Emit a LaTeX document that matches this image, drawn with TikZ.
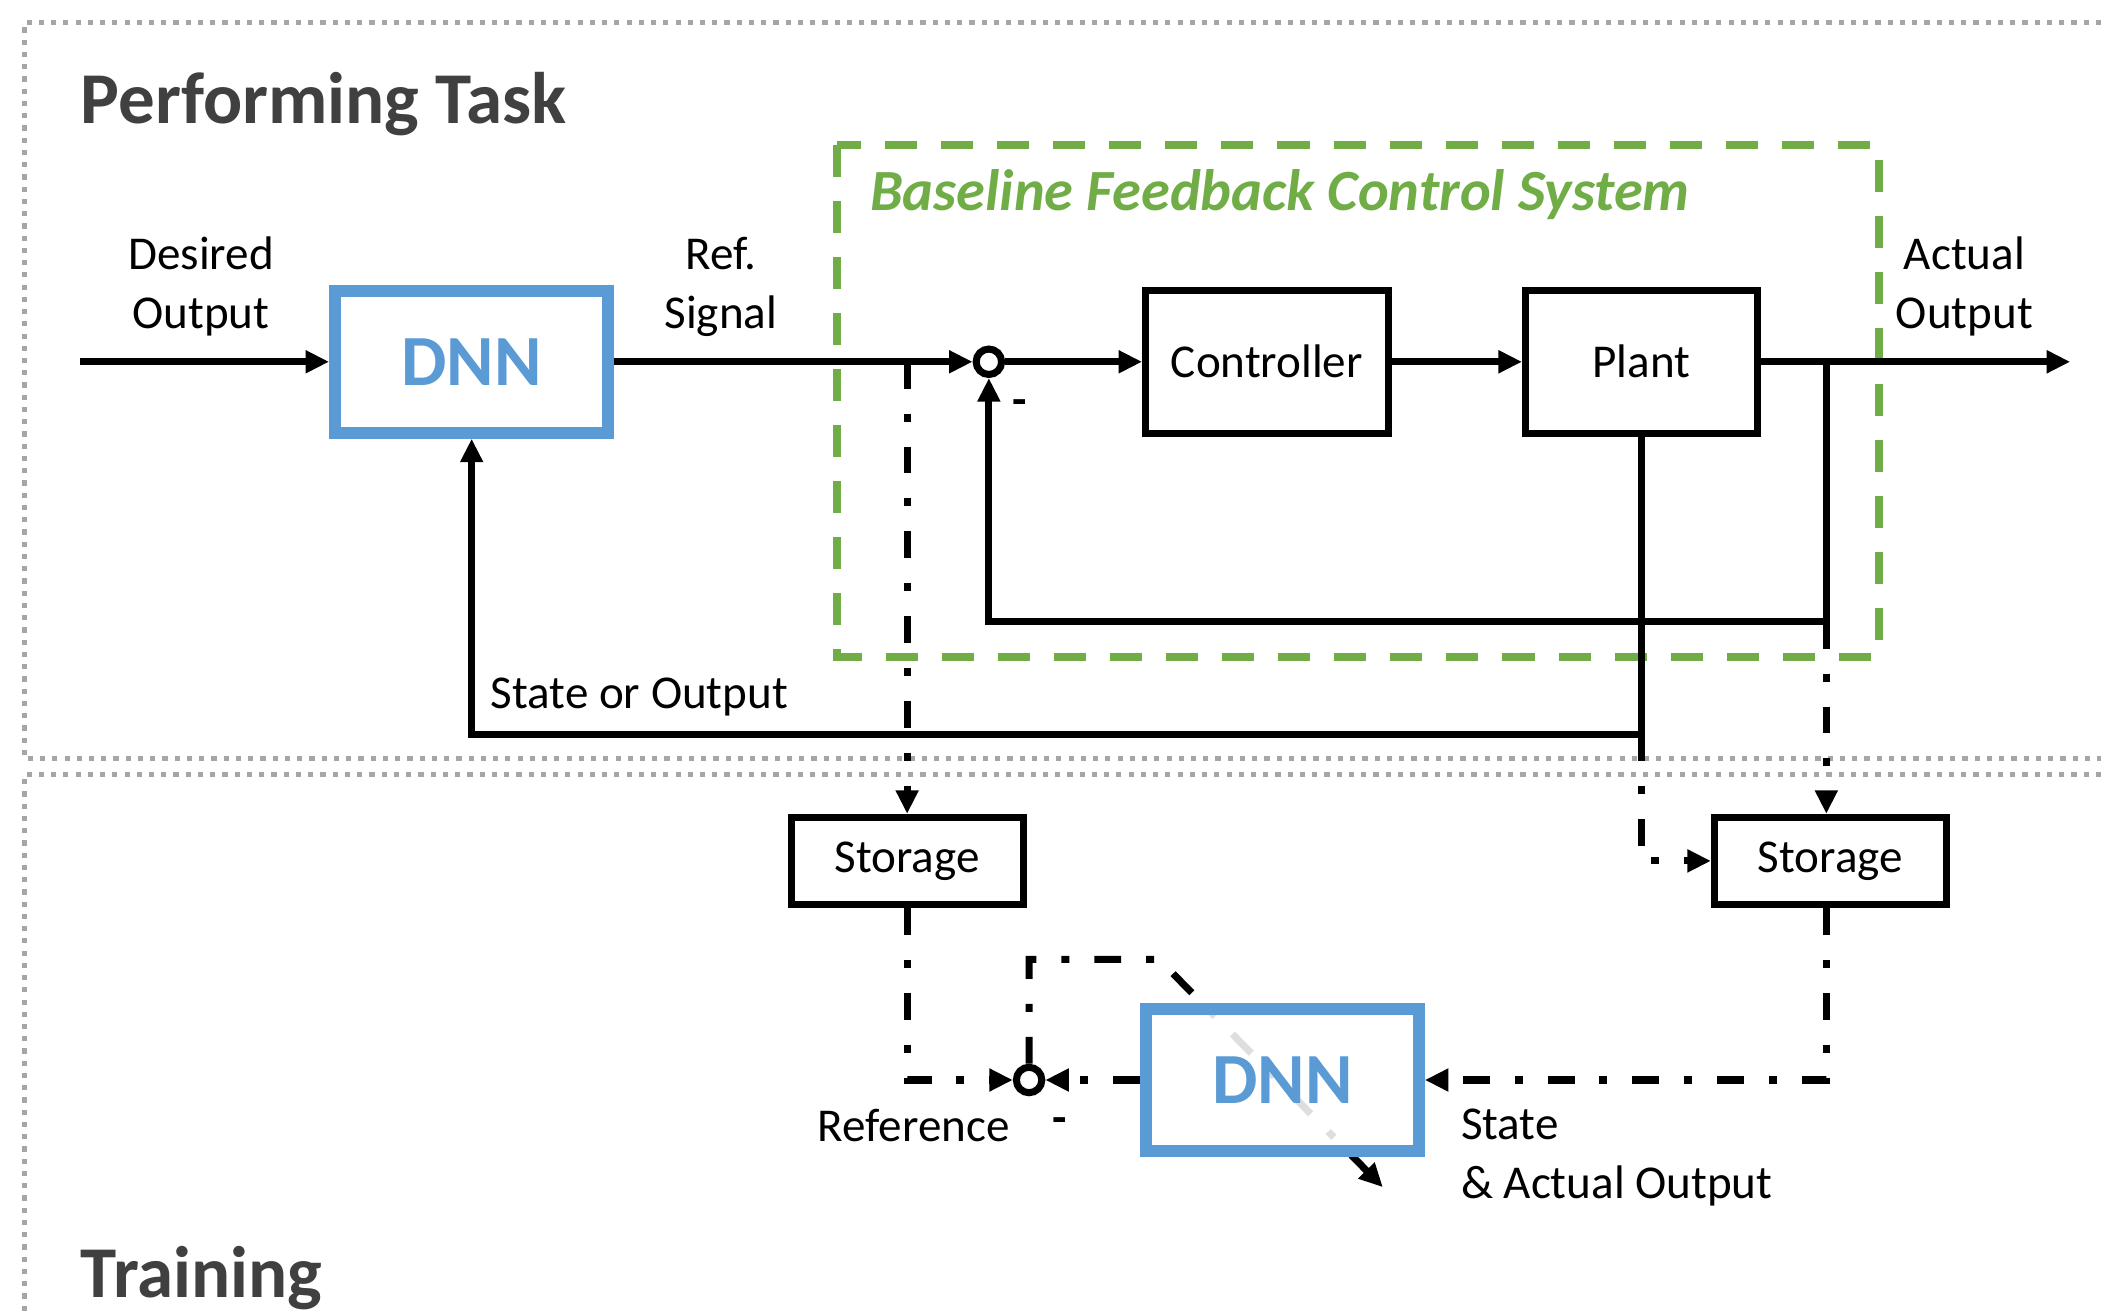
\documentclass[tikz,border=0pt]{standalone}
\usepackage{fontspec}
\setmainfont{Carlito}
\usetikzlibrary{arrows.meta}
\definecolor{dnnblue}{HTML}{5B9BD5}
\definecolor{basegreen}{HTML}{70AD47}
\definecolor{framegray}{HTML}{A6A6A6}
\definecolor{titlegray}{HTML}{404040}

\begin{document}
\begin{tikzpicture}[>={Triangle[length=5pt,width=4.6pt]}, line width=1.5pt,
  every node/.style={font=\fontsize{10}{12.5}\selectfont, align=center},
  block/.style={draw, rectangle, inner sep=0pt, minimum height=1.07cm},
  storebox/.style={draw, rectangle, inner sep=0pt, minimum width=1.73cm, minimum height=0.65cm},
  dnnbox/.style={draw=dnnblue, line width=2.5pt, fill=white, rectangle, inner sep=0pt, minimum width=2.04cm, minimum height=1.06cm, text=dnnblue, font=\fontsize{15.3}{18}\selectfont\bfseries},
  junction/.style={draw, circle, fill=white, minimum size=0.19cm, inner sep=0pt},
  dashdotline/.style={dash pattern=on 5.7pt off 5.3pt on 1.7pt off 5.3pt},
  framedots/.style={draw=framegray, line width=1.1pt, dash pattern=on 1.1pt off 1.5pt},
  minus/.style={label={[anchor=center, xshift=0.23cm, yshift=-0.34cm]center:\textbf{-}}}]
\useasboundingbox (0,0) rectangle (15.68,-9.81);
\draw[framedots] (15.68,-0.17) -- (0.18,-0.17) -- (0.18,-5.66) -- (15.68,-5.66);
\draw[framedots] (15.68,-5.78) -- (0.18,-5.78) -- (0.18,-9.81);
\node[anchor=base west, text=titlegray, font=\fontsize{15.5}{18}\selectfont\bfseries] (PTitle) at (0.46,-0.92) {Performing Task};
\node[anchor=base west, text=titlegray, font=\fontsize{15.5}{18}\selectfont\bfseries] (TTitle) at (0.46,-9.68) {Training};
\draw[draw=basegreen, line width=1.7pt, dash pattern=on 6.8pt off 5.1pt] (6.25,-1.08) rectangle (14.02,-4.90);
\node[anchor=west, text=basegreen, font=\fontsize{12.4}{14}\selectfont\bfseries\itshape] (P1Base) at (6.35,-1.45) {Baseline Feedback Control System};
\coordinate (P1In) at (0.60,-2.70);
\node[dnnbox] (P1Dnn) at (3.52,-2.70) {DNN};
\node[junction, minus] (P1Sum) at (7.38,-2.70) {};
\node[block, minimum width=1.81cm] (P1Ctl) at (9.455,-2.70) {Controller};
\node[block, minimum width=1.73cm] (P1Plant) at (12.25,-2.70) {Plant};
\coordinate (P1Out) at (15.45,-2.70);
\coordinate (P1TapRef) at (6.77,-2.70);
\coordinate (P1TapOut) at (13.63,-2.70);
\coordinate (P1LoopIn) at (13.63,-4.64);
\coordinate (P1LoopOut) at (12.25,-5.48);
\node (P1Desired) at (1.50,-2.14) {Desired\\Output};
\node (P1Ref) at (5.38,-2.14) {Ref.\\Signal};
\node (P1Actual) at (14.66,-2.14) {Actual\\Output};
\node[anchor=west] (P1State) at (3.52,-5.20) {State or Output};
\draw[->] (P1In) -- (P1Dnn);
\draw[->] (P1Dnn) -- (P1Sum);
\draw[->] (P1Sum) -- (P1Ctl);
\draw[->] (P1Ctl) -- (P1Plant);
\draw[->] (P1Plant) -- (P1Out);
\draw[->] (P1TapOut) -- (P1LoopIn) -| (P1Sum);
\draw[->] (P1Plant.south) -- (P1LoopOut) -| (P1Dnn);
\node[storebox] (T1StoreA) at (6.77,-6.425) {Storage};
\node[storebox] (T1StoreB) at (13.66,-6.425) {Storage};
\node[junction, minus] (T1Sum) at (7.68,-8.06) {};
\coordinate (T1Top) at (8.65,-7.16);
\coordinate (T1End) at (10.32,-8.86);
\draw[->, dashdotline] (T1Sum) |- (T1Top) -- (T1End);
\node[dnnbox, fill opacity=0.87, text opacity=1] (T1Dnn) at (9.57,-8.06) {DNN};
\node (T1Ref) at (6.82,-8.40) {Reference};
\node[anchor=west, align=left] (T1State) at (10.76,-8.64) {State\\\& Actual Output};
\draw[->, dashdotline] (P1TapRef) -- (T1StoreA);
\draw[->, dashdotline] (P1LoopIn) -- (T1StoreB.north -| P1LoopIn);
\draw[->, dashdotline] (P1LoopOut) |- (T1StoreB);
\draw[->, dashdotline] (T1StoreA) |- (T1Sum);
\draw[->, dashdotline] (T1StoreB.south -| P1LoopIn) |- (T1Dnn);
\draw[->, dashdotline] (T1Dnn) -- (T1Sum);
\end{tikzpicture}
\end{document}
